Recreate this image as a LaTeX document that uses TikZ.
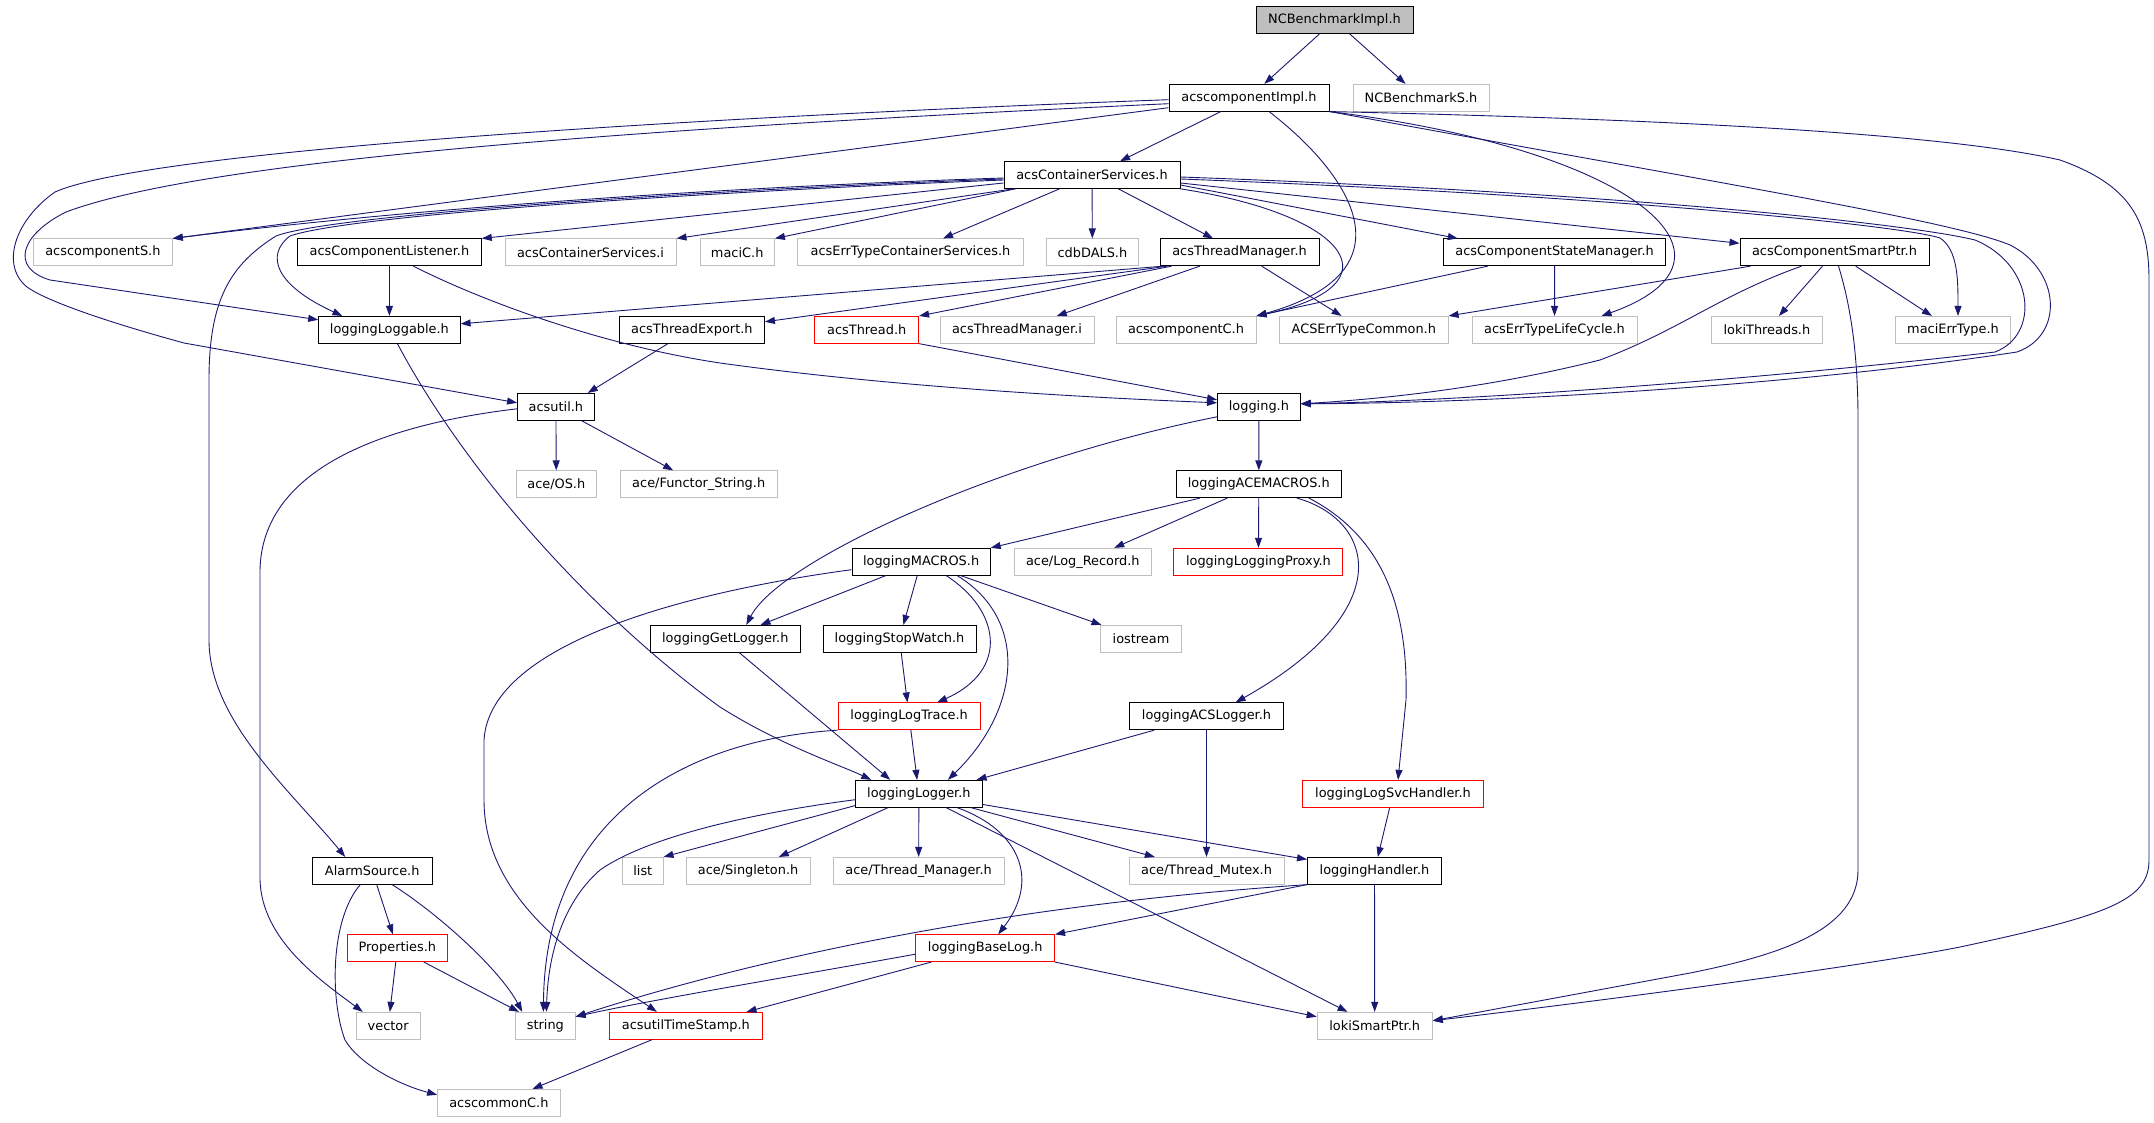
\documentclass[tikz,border=0pt]{standalone}
\usepackage{fontspec}
\setmainfont{DejaVu Sans}
\usepackage{tikz}
\usetikzlibrary{arrows.meta, calc}
\definecolor{edgeblue}{RGB}{25,25,112}
\definecolor{boxgray}{RGB}{191,191,191}

\begin{document}
\begin{tikzpicture}[x=1pt, y=-1pt, header/.style={draw=black, fill=white,
      line width=1pt, minimum height=26.7pt, inner sep=0pt,
      font=\fontsize{12.9}{14}\selectfont}, sysheader/.style={header,
      draw=boxgray}, missing/.style={header, draw=red},
      rootfile/.style={header, fill=boxgray}, dep/.style={draw=edgeblue,
      line width=0.9pt, -{Triangle[length=10pt, width=7pt]}} ]

    \useasboundingbox (0,0) rectangle (2154,1123);

    % Root and first levels
    \node[rootfile, minimum width=157pt] (ncbimpl) at (1334.5,20.3) {NCBenchmarkImpl.h};
    \node[header, minimum width=160pt] (compimpl) at (1249,97.7) {acscomponentImpl.h};
    \node[sysheader, minimum width=136pt] (ncbs) at (1421,97.7) {NCBenchmarkS.h};
    \node[header, minimum width=176pt] (contsvc) at (1092,175) {acsContainerServices.h};

    % Row 3
    \node[sysheader, minimum width=138.7pt] (compS) at (102.9,252.3) {acscomponentS.h};
    \node[header, minimum width=183.7pt] (complist) at (389.4,252.3) {acsComponentListener.h};
    \node[sysheader, minimum width=171pt] (contsvci) at (590.5,252.3) {acsContainerServices.i};
    \node[sysheader, minimum width=74.4pt] (macic) at (737.2,252.3) {maciC.h};
    \node[sysheader, minimum width=225.5pt] (errcont) at (910.5,252.3) {acsErrTypeContainerServices.h};
    \node[sysheader, minimum width=92.3pt] (cdb) at (1092.4,252.3) {cdbDALS.h};
    \node[header, minimum width=159pt] (thrmgr) at (1239.5,252.3) {acsThreadManager.h};
    \node[header, minimum width=222.6pt] (statemgr) at (1554.6,252.3) {acsComponentStateManager.h};
    \node[header, minimum width=189pt] (smartptr) at (1834.5,252.3) {acsComponentSmartPtr.h};

    % Row 4
    \node[header, minimum width=141.4pt] (loggable) at (389.4,329.8) {loggingLoggable.h};
    \node[header, minimum width=145pt] (threxport) at (691.9,329.8) {acsThreadExport.h};
    \node[missing, minimum width=103.8pt] (thread) at (866.7,329.8) {acsThread.h};
    \node[sysheader, minimum width=154pt] (thrmgri) at (1017,329.8) {acsThreadManager.i};
    \node[sysheader, minimum width=140pt] (compc) at (1186,329.8) {acscomponentC.h};
    \node[sysheader, minimum width=168.5pt] (errcommon) at (1363.8,329.8) {ACSErrTypeCommon.h};
    \node[sysheader, minimum width=165pt] (errlife) at (1554.5,329.8) {acsErrTypeLifeCycle.h};
    \node[sysheader, minimum width=110.6pt] (lokithr) at (1766.9,329.8) {lokiThreads.h};
    \node[sysheader, minimum width=114.4pt] (macierr) at (1953,329.8) {maciErrType.h};

    % Rows 5 to 9
    \node[header, minimum width=76.7pt] (acsutil) at (555.9,406.8) {acsutil.h};
    \node[header, minimum width=82.7pt] (logging) at (1258.9,406.8) {logging.h};
    \node[sysheader, minimum width=79.4pt] (aceos) at (556.3,484.2) {ace/OS.h};
    \node[sysheader, minimum width=156.6pt] (functor) at (698.7,484.2) {ace/Functor\_String.h};
    \node[header, minimum width=164.4pt] (acemacros) at (1258.8,484.2) {loggingACEMACROS.h};
    \node[header, minimum width=138.2pt] (macros) at (921.1,561.7) {loggingMACROS.h};
    \node[sysheader, minimum width=136.5pt] (logrecord) at (1082.8,561.7) {ace/Log\_Record.h};
    \node[missing, minimum width=169pt] (proxy) at (1258.4,561.7) {loggingLoggingProxy.h};
    \node[header, minimum width=149.4pt] (getlogger) at (725.3,638.8) {loggingGetLogger.h};
    \node[header, minimum width=153pt] (stopwatch) at (899.5,638.8) {loggingStopWatch.h};
    \node[sysheader, minimum width=80.3pt] (iostream) at (1141,638.8) {iostream};
    \node[missing, minimum width=141.8pt] (logtrace) at (909.1,716.3) {loggingLogTrace.h};
    \node[header, minimum width=153.4pt] (acslogger) at (1206.5,716.3) {loggingACSLogger.h};

    % Rows 10 to 14
    \node[header, minimum width=126.3pt] (logger) at (918.9,793.7) {loggingLogger.h};
    \node[missing, minimum width=180.3pt] (svchandler) at (1393,793.7) {loggingLogSvcHandler.h};
    \node[header, minimum width=120pt] (alarm) at (372.2,870.8) {AlarmSource.h};
    \node[sysheader, minimum width=40.4pt] (list) at (642.8,870.8) {list};
    \node[sysheader, minimum width=124.2pt] (singleton) at (748.1,870.8) {ace/Singleton.h};
    \node[sysheader, minimum width=170.8pt] (thrmanager) at (918.6,870.8) {ace/Thread\_Manager.h};
    \node[sysheader, minimum width=155pt] (thrmutex) at (1206.5,870.8) {ace/Thread\_Mutex.h};
    \node[header, minimum width=134pt] (handler) at (1374.5,870.8) {loggingHandler.h};
    \node[missing, minimum width=99.6pt] (properties) at (397.4,948.2) {Properties.h};
    \node[missing, minimum width=138.7pt] (baselog) at (985.2,948.2) {loggingBaseLog.h};
    \node[sysheader, minimum width=63.8pt] (vector) at (388.2,1025.7) {vector};
    \node[sysheader, minimum width=59.3pt] (string) at (545.4,1025.7) {string};
    \node[missing, minimum width=152.2pt] (timestamp) at (685.9,1025.7) {acsutilTimeStamp.h};
    \node[sysheader, minimum width=115.1pt] (lokiptr) at (1374.7,1025.7) {lokiSmartPtr.h};
    \node[sysheader, minimum width=122.6pt] (commonc) at (498.9,1102.8) {acscommonC.h};

    % Root includes
    \draw[dep] (ncbimpl) -- (compimpl); \draw[dep] (ncbimpl) -- (ncbs);

    % acscomponentImpl.h
    \draw[dep] (compimpl) -- (contsvc);
    \draw[dep] ($(compimpl.west)+(0,10)$) -- (compS.north east);
    \draw[dep] ($(compimpl.west)+(0,6)$) .. controls (600,130) and (200,162) .. (66,212)
      .. controls (20,235) and (10,268) .. (50,280) -- ($(loggable.west)+(0,-10)$);
    \draw[dep] ($(compimpl.west)+(0,2)$) .. controls (700,117) and (150,150) .. (55,192)
      .. controls (15,220) and (0,265) .. (27,287) .. controls (45,300) and (100,320) .. (184,343)
      -- ($(acsutil.west)+(0,-4)$);
    \draw[dep] ($(compimpl.south)+(20,0)$) .. controls (1345,170) and (1420,270) .. (compc.north east);
    \draw[dep] (compimpl.south east) .. controls (1640,150) and (1760,260) .. ($(errlife.north)+(47,0)$);
    \draw[dep] (compimpl.south east) .. controls (1700,120) and (1950,135) .. (2060,160)
      .. controls (2130,185) and (2149,220) .. (2149,280) -- (2149,860)
      .. controls (2149,900) and (2110,915) .. (1960,947)
      .. controls (1880,963) and (1650,995) .. ($(lokiptr.east)+(0,-5)$);
    \draw[dep] (compimpl.south east) .. controls (1700,180) and (1950,220) .. (2010,245)
      .. controls (2060,270) and (2065,335) .. (2017,352)
      .. controls (1800,385) and (1500,403) .. ($(logging.east)+(0,-3)$);

    % acsContainerServices.h
    \draw[dep] ($(contsvc.west)+(0,3)$) .. controls (700,188) and (400,210) .. (compS.north east);
    \draw[dep] ($(contsvc.west)+(0,5)$) .. controls (700,192) and (350,215) .. (290,236)
      .. controls (265,255) and (275,285) .. ($(loggable.north)+(-47,0)$);
    \draw[dep] ($(contsvc.west)+(0,4)$) .. controls (700,190) and (330,215) .. (276,236)
      .. controls (230,265) and (209,300) .. (209,380) -- (209,640)
      .. controls (209,720) and (290,790) .. ($(alarm.north)+(-27,0)$);
    \draw[dep] ($(contsvc.west)+(0,8)$) -- (complist.north east);
    \draw[dep] ($(contsvc.south west)+(10,0)$) -- (contsvci.north east);
    \draw[dep] ($(contsvc.south west)+(12,0)$) -- (macic.north east);
    \draw[dep] (contsvc) -- (errcont); \draw[dep] (contsvc) -- (cdb); \draw[dep] (contsvc) -- (thrmgr);
    \draw[dep] (contsvc.south east) .. controls (1350,215) and (1400,285) .. (compc.north east);
    \draw[dep] ($(contsvc.east)+(0,10)$) -- ($(statemgr.north west)+(15,0)$);
    \draw[dep] ($(contsvc.east)+(0,8)$) -- ($(smartptr.west)+(0,-9)$);
    \draw[dep] ($(contsvc.east)+(0,4)$) .. controls (1600,195) and (1900,225) .. (1940,238)
      .. controls (1958,250) and (1958,280) .. ($(macierr.north)+(5,0)$);
    \draw[dep] ($(contsvc.east)+(0,2)$) .. controls (1600,192) and (1900,222) .. (1975,240)
      .. controls (2035,265) and (2040,335) .. (1995,352)
      .. controls (1800,375) and (1500,400) .. ($(logging.east)+(0,-3)$);

    % Listener, thread manager, state manager, smart pointer
    \draw[dep] (complist) -- (loggable);
    \draw[dep] ($(complist.south)+(24,0)$) .. controls (480,300) and (600,345) .. (720,363)
      .. controls (900,388) and (1100,398) .. ($(logging.west)+(0,-4)$);
    \draw[dep] ($(thrmgr.south west)+(4,0)$) -- ($(loggable.east)+(0,-6)$);
    \draw[dep] ($(thrmgr.south west)+(8,0)$) -- ($(threxport.east)+(0,-8)$);
    \draw[dep] ($(thrmgr.south west)+(12,0)$) -- (thread.north east);
    \draw[dep] (thrmgr) -- (thrmgri); \draw[dep] (thrmgr) -- (errcommon);
    \draw[dep] ($(threxport.south)+(-24,0)$) -- ($(acsutil.north east)+(-7,0)$);
    \draw[dep] (thread.south east) -- ($(logging.west)+(0,-7)$);
    \draw[dep] ($(statemgr.south west)+(45,0)$) -- (compc.north east);
    \draw[dep] (statemgr) -- (errlife);
    \draw[dep] ($(smartptr.south west)+(11,0)$) -- (errcommon.north east);
    \draw[dep] (smartptr) -- (lokithr); \draw[dep] (smartptr) -- (macierr);
    \draw[dep] ($(smartptr.south)+(-33,0)$) .. controls (1720,295) and (1680,330) .. (1600,360)
      .. controls (1500,385) and (1400,398) .. ($(logging.east)+(0,-3)$);
    \draw[dep] ($(smartptr.south)+(4,0)$) .. controls (1852,310) and (1858,360) .. (1858,420)
      -- (1858,870) .. controls (1858,930) and (1780,955) .. (1690,973)
      -- ($(lokiptr.east)+(0,-5)$);

    % loggingLoggable.h, acsutil.h, logging.h
    \draw[dep] ($(loggable.south)+(8,0)$) .. controls (470,480) and (600,620) .. (720,707)
      .. controls (780,745) and (840,765) .. ($(logger.north west)+(16,0)$);
    \draw[dep] (acsutil) -- (aceos); \draw[dep] (acsutil) -- (functor);
    \draw[dep] ($(acsutil.west)+(0,2)$) .. controls (380,425) and (262,470) .. (260,570)
      -- (260,880) .. controls (262,940) and (320,980) .. ($(vector.north west)+(7,0)$);
    \draw[dep] (logging) -- (acemacros);
    \draw[dep] ($(logging.west)+(0,10)$) .. controls (1000,460) and (780,560) .. ($(getlogger.north)+(21,0)$);

    % loggingACEMACROS.h
    \draw[dep] ($(acemacros.south west)+(24,0)$) -- (macros.north east);
    \draw[dep] (acemacros) -- (logrecord); \draw[dep] (acemacros) -- (proxy);
    \draw[dep] ($(acemacros.south)+(38,0)$) .. controls (1375,520) and (1400,610) .. ($(acslogger.north)+(29,0)$);
    \draw[dep] ($(acemacros.south)+(50,0)$) .. controls (1390,540) and (1408,620) .. (1406,700)
      -- ($(svchandler.north)+(5,0)$);

    % loggingMACROS.h
    \draw[dep] (macros) -- (getlogger); \draw[dep] (macros) -- (stopwatch);
    \draw[dep] ($(macros.south)+(25,0)$) .. controls (1000,610) and (1010,670) .. ($(logtrace.north)+(28,0)$);
    \draw[dep] ($(macros.south)+(36,0)$) .. controls (1030,620) and (1020,710) .. ($(logger.north)+(29,0)$);
    \draw[dep] (macros) -- (iostream);
    \draw[dep] ($(macros.west)+(0,8)$) .. controls (700,590) and (490,640) .. (484,740) -- (484,800)
      .. controls (484,900) and (580,960) .. ($(timestamp.north)+(-29,0)$);

    % Into loggingLogger.h
    \draw[dep] ($(getlogger.south)+(14,0)$) -- ($(logger.north west)+(35,0)$);
    \draw[dep] (stopwatch) -- (logtrace); \draw[dep] (logtrace) -- (logger);
    \draw[dep] (logtrace.south west) .. controls (680,740) and (545,820) .. ($(string.north)+(-2,0)$);
    \draw[dep] ($(acslogger.south west)+(25,0)$) -- ($(logger.north east)+(-6,0)$);
    \draw[dep] (acslogger) -- (thrmutex);
    \draw[dep] (svchandler) -- (handler);

    % loggingLogger.h
    \draw[dep] ($(logger.west)+(0,6)$) .. controls (760,812) and (650,835) .. (600,870)
      .. controls (560,905) and (548,960) .. ($(string.north)+(1,0)$);
    \draw[dep] ($(logger.south west)+(0,-2)$) -- (list.north east);
    \draw[dep] (logger) -- (singleton); \draw[dep] (logger) -- (thrmanager);
    \draw[dep] ($(logger.south)+(38,0)$) .. controls (1020,830) and (1040,880) .. ($(baselog.north)+(13,0)$);
    \draw[dep] (logger) -- (thrmutex); \draw[dep] (logger) -- (handler);
    \draw[dep] (logger) -- (lokiptr);

    % loggingHandler.h and loggingBaseLog.h
    \draw[dep] (handler.south west) .. controls (1000,905) and (750,960) .. ($(string.east)+(0,-9)$);
    \draw[dep] (handler.south west) -- (baselog.north east);
    \draw[dep] (handler) -- (lokiptr);
    \draw[dep] ($(baselog.west)+(0,6)$) .. controls (800,975) and (650,1000) .. ($(string.east)+(0,-9)$);
    \draw[dep] ($(baselog.south west)+(16,0)$) -- ($(timestamp.north east)+(-16,0)$);
    \draw[dep] (baselog.south east) -- ($(lokiptr.west)+(0,-9)$);

    % AlarmSource.h and the bottom
    \draw[dep] (alarm) -- (properties);
    \draw[dep] ($(alarm.south)+(20,0)$) .. controls (440,915) and (500,970) .. ($(string.north west)+(7,0)$);
    \draw[dep] ($(alarm.south)+(-12,0)$) .. controls (330,920) and (330,1000) .. (345,1040)
      .. controls (360,1065) and (400,1085) .. ($(commonc.west)+(0,-8)$);
    \draw[dep] (properties) -- (vector); \draw[dep] (properties) -- (string);
    \draw[dep] (timestamp) -- (commonc);

\end{tikzpicture}
\end{document}
